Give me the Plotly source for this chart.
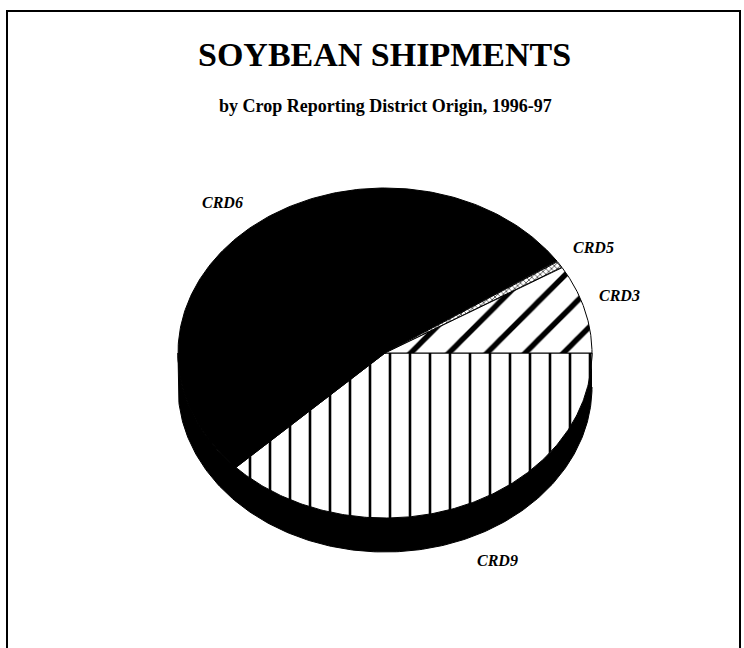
import numpy as np
import plotly.graph_objects as go

# Soybean shipments by crop reporting district of origin, 1996-97 (percent)
districts = ["CRD9", "CRD6", "CRD5", "CRD3"]
shares = [37.8, 52.8, 0.7, 8.7]

title_text = "SOYBEAN SHIPMENTS"
subtitle_text = "by Crop Reporting District Origin, 1996-97"

# Canvas and pie geometry (pixels)
W, H = 744, 648
CX, CY = 385, 353          # centre of the pie's top face
RX = 207                   # horizontal radius
TILT = 165 / 207           # vertical squash of the tilted face
DEPTH = 34 / 207           # thickness of the pie wall

FONT = "Liberation Serif"


def arc(t0, t1, drop=0.0, n=200):
    """Points on the tilted ellipse; angles in degrees, clockwise from 3 o'clock."""
    t = np.radians(np.linspace(t0, t1, n))
    return np.cos(t), -TILT * np.sin(t) - drop


fig = go.Figure()

# Pie wall (front half, seen below the top face)
xa, ya = arc(0, 180)
xb, yb = arc(180, 0, drop=DEPTH)
fig.add_trace(go.Scatter(
    x=np.concatenate([xa, xb]), y=np.concatenate([ya, yb]),
    fill="toself", fillcolor="black", mode="lines",
    line=dict(color="black", width=1), hoverinfo="skip", showlegend=False,
))

styles = {
    "CRD9": dict(fillcolor="white",
                 fillpattern=dict(shape="|", size=20, solidity=0.13,
                                  fgcolor="black", bgcolor="white", fillmode="replace")),
    "CRD6": dict(fillcolor="black"),
    "CRD5": dict(fillcolor="white",
                 fillpattern=dict(shape="x", size=4, solidity=0.4,
                                  fgcolor="#555555", bgcolor="white", fillmode="replace")),
    "CRD3": dict(fillcolor="white",
                 fillpattern=dict(shape="/", size=27, solidity=0.2,
                                  fgcolor="black", bgcolor="white", fillmode="replace")),
}

# Top-face wedges, laid out clockwise from 3 o'clock
total = float(sum(shares))
start = 0.0
for name, val in zip(districts, shares):
    span = 360.0 * val / total
    ex, ey = arc(start, start + span)
    fig.add_trace(go.Scatter(
        x=np.concatenate([[0.0], ex, [0.0]]), y=np.concatenate([[0.0], ey, [0.0]]),
        fill="toself", mode="lines", line=dict(color="black", width=1),
        name=name, hovertemplate=f"{name}: {val}%<extra></extra>",
        showlegend=False, **styles[name],
    ))
    start += span

# Slice labels (pixel positions)
labels = {"CRD6": (222, 203), "CRD5": (593, 247), "CRD3": (619, 295), "CRD9": (497, 560)}
for name, (px, py) in labels.items():
    fig.add_annotation(
        x=px / W, y=1 - py / H, xref="paper", yref="paper", text=name,
        showarrow=False, xanchor="center", yanchor="middle",
        font=dict(family=FONT, size=16, color="black", style="italic", weight="bold"),
    )

fig.add_annotation(x=384 / W, y=1 - 54 / H, xref="paper", yref="paper", text=title_text,
                   showarrow=False, xanchor="center", yanchor="middle",
                   font=dict(family=FONT, size=34, color="black", weight="bold"))
fig.add_annotation(x=385 / W, y=1 - 106 / H, xref="paper", yref="paper", text=subtitle_text,
                   showarrow=False, xanchor="center", yanchor="middle",
                   font=dict(family=FONT, size=18, color="black", weight="bold"))

# Frame around the page (open at the bottom)
fig.add_shape(type="path", xref="paper", yref="paper",
              path=f"M {7 / W} 0 L {7 / W} {1 - 11 / H} L {740 / W} {1 - 11 / H} L {740 / W} 0",
              line=dict(color="black", width=2))

fig.update_layout(
    width=W, height=H, margin=dict(l=0, r=0, t=0, b=0),
    paper_bgcolor="white", plot_bgcolor="white",
    xaxis=dict(range=[-CX / RX, (W - CX) / RX], visible=False, fixedrange=True),
    yaxis=dict(range=[-(H - CY) / RX, CY / RX], visible=False, fixedrange=True),
)

fig.write_html("out.html")
